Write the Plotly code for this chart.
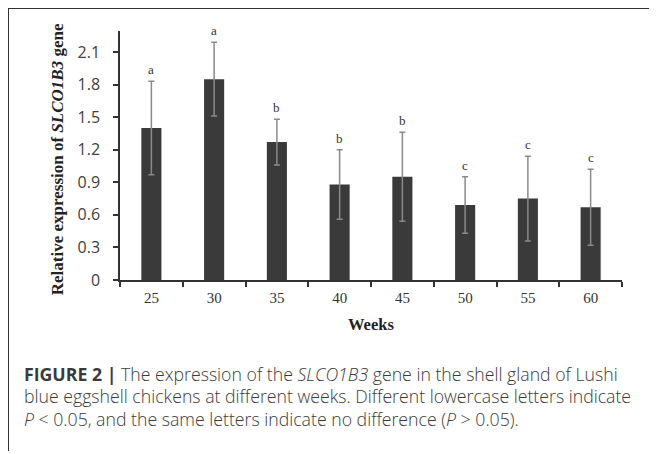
import plotly.graph_objects as go

# ---- data ----
weeks = ["25", "30", "35", "40", "45", "50", "55", "60"]
expression = [1.40, 1.85, 1.27, 0.88, 0.95, 0.69, 0.75, 0.67]
errors = [0.43, 0.34, 0.21, 0.32, 0.41, 0.26, 0.39, 0.35]
letters = ["a", "a", "b", "b", "b", "c", "c", "c"]
y_ticks = [0, 0.3, 0.6, 0.9, 1.2, 1.5, 1.8, 2.1]
y_tick_labels = ["0", "0.3", "0.6", "0.9", "1.2", "1.5", "1.8", "2.1"]

W, H = 657, 454
OFF = 8  # page body margin offset
def px(x): return (x - OFF) / W
def py(y): return 1 - (y - OFF) / H

fig = go.Figure()
fig.add_trace(go.Bar(
    x=weeks, y=expression,
    marker=dict(color="#3a3a3a", line=dict(width=0)),
    width=0.32,
    error_y=dict(type="data", array=errors, visible=True,
                 color="#8a8a8a", thickness=1.5, width=3),
))

serif = "Liberation Serif, Times New Roman, serif"

# significance letters (category index positions)
for i, (m, e, L) in enumerate(zip(expression, errors, letters)):
    fig.add_annotation(x=i, y=m + e, xref="x", yref="y", text=L,
                       showarrow=False, yanchor="bottom", yshift=2,
                       font=dict(family=serif, size=13, color="#333333"))

# axis titles
fig.add_annotation(x=px(57), y=py(163), xref="paper", yref="paper",
                   text="<b>Relative expression of <i>SLCO1B3</i> gene</b>",
                   textangle=-90, showarrow=False,
                   xanchor="center", yanchor="middle",
                   font=dict(family=serif, size=17, color="#222222"))
fig.add_annotation(x=px(371), y=py(332), xref="paper", yref="paper",
                   text="<b>Weeks</b>", showarrow=False,
                   xanchor="center", yanchor="middle",
                   font=dict(family=serif, size=16.5, color="#222222"))

# caption
cap_font = dict(family="Open Sans, sans-serif", size=17.7,
                color="#3a3a3a", weight=300)
cap_lines = [
    "<b>FIGURE 2 |</b> The expression of the <i>SLCO1B3</i> gene in the shell gland of Lushi",
    "blue eggshell chickens at different weeks. Different lowercase letters indicate",
    "<i>P</i> < 0.05, and the same letters indicate no difference (<i>P</i> > 0.05).",
]
for txt, yc in zip(cap_lines, [383, 406, 429]):
    fig.add_annotation(x=px(22), y=py(yc), xref="paper", yref="paper",
                       text=txt, showarrow=False, xanchor="left",
                       yanchor="middle", align="left", font=cap_font)

# frame lines
fig.add_shape(type="line", xref="paper", yref="paper",
              x0=px(8), y0=py(8), x1=1, y1=py(8),
              line=dict(color="#333333", width=2))
fig.add_shape(type="line", xref="paper", yref="paper",
              x0=px(8), y0=py(8), x1=px(8), y1=0,
              line=dict(color="#333333", width=2))

fig.update_layout(
    width=W, height=H,
    margin=dict(l=0, r=0, t=0, b=0),
    paper_bgcolor="white", plot_bgcolor="white",
    showlegend=False,
    xaxis=dict(domain=[px(120), px(622)], type="category",
               range=[-0.5, 7.5],
               showline=True, linecolor="#333333", linewidth=1.5,
               ticks="outside", tickson="boundaries", ticklen=5,
               tickcolor="#333333", tickwidth=1.5,
               tickfont=dict(family=serif, size=15, color="#333333"),
               ticklabelstandoff=3,
               showgrid=False, zeroline=False, fixedrange=True),
    yaxis=dict(domain=[py(286.7), py(32)], range=[0, 2.29],
               tickvals=y_ticks, ticktext=y_tick_labels,
               showline=True, linecolor="#333333", linewidth=1.5,
               ticks="outside", ticklen=5, tickcolor="#333333", tickwidth=1.5,
               tickfont=dict(family="Open Sans, sans-serif", size=16,
                             color="#404040"),
               ticklabelstandoff=10,
               showgrid=False, zeroline=False, fixedrange=True),
)

fig.write_html("out.html")
